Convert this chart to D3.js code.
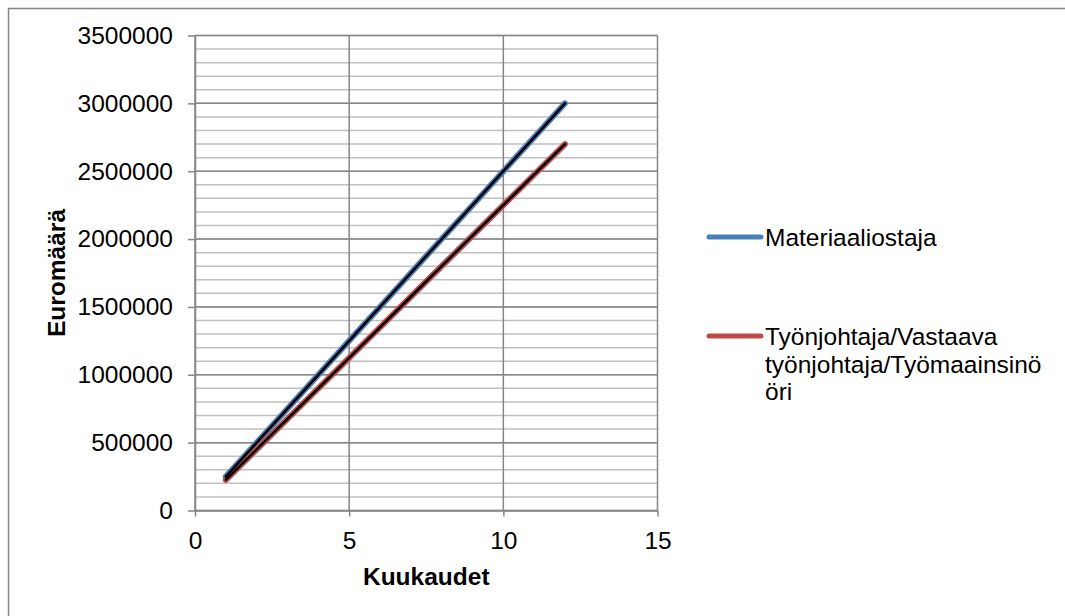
<!DOCTYPE html>
<html>
<head>
<meta charset="utf-8">
<script src="https://cdn.jsdelivr.net/npm/d3@7"></script>
<style>
  html, body { margin: 0; padding: 0; background: #fff; }
  svg { display: block; }
  text { font-family: "Liberation Sans", Arial, sans-serif; fill: #000; }
</style>
</head>
<body>
<svg id="chart" width="1065" height="616"></svg>
<script>
// Months on the x axis
const months = [1, 2, 3, 4, 5, 6, 7, 8, 9, 10, 11, 12];
// Cumulative euro amounts per role
const materiaaliostaja = [250000, 500000, 750000, 1000000, 1250000, 1500000, 1750000, 2000000, 2250000, 2500000, 2750000, 3000000];
const tyonjohtaja = [225000, 450000, 675000, 900000, 1125000, 1350000, 1575000, 1800000, 2025000, 2250000, 2475000, 2700000];
const seriesNames = ["Materiaaliostaja", "Työnjohtaja/Vastaava työnjohtaja/Työmaainsinöri"];
const legendLines = [["Materiaaliostaja"], ["Työnjohtaja/Vastaava", "työnjohtaja/Työmaainsinö", "öri"]];
const xTicks = [0, 5, 10, 15];
const yTicks = [0, 500000, 1000000, 1500000, 2000000, 2500000, 3000000, 3500000];
const yMinor = d3.range(0, 3500001, 100000);
const colors = ["#4a7ebb", "#be4b48"];

const svg = d3.select("#chart");
const plotLeft = 195, plotRight = 657.5, plotTop = 35.5, plotBottom = 510.5;
const fs = 24.5;

// Outer chart frame
svg.append("rect")
  .attr("x", 8.5).attr("y", 8.5).attr("width", 1100).attr("height", 700)
  .attr("fill", "#fff").attr("stroke", "#868686").attr("stroke-width", 1.5);

const x = d3.scaleLinear().domain([0, 15]).range([plotLeft, plotRight]);
const y = d3.scaleLinear().domain([0, 3500000]).range([plotBottom, plotTop]);

// Minor horizontal gridlines
svg.append("g").selectAll("line").data(yMinor).join("line")
  .attr("x1", plotLeft).attr("x2", plotRight)
  .attr("y1", d => y(d)).attr("y2", d => y(d))
  .attr("stroke", "#c0c0c0").attr("stroke-width", 1.5);

// Major horizontal gridlines
svg.append("g").selectAll("line").data(yTicks).join("line")
  .attr("x1", plotLeft).attr("x2", plotRight)
  .attr("y1", d => y(d)).attr("y2", d => y(d))
  .attr("stroke", "#868686").attr("stroke-width", 1.5);

// Major vertical gridlines
svg.append("g").selectAll("line").data(xTicks).join("line")
  .attr("x1", d => x(d)).attr("x2", d => x(d))
  .attr("y1", plotTop).attr("y2", plotBottom)
  .attr("stroke", "#868686").attr("stroke-width", 1.5);

// Y axis
const yAxis = svg.append("g").attr("transform", `translate(${plotLeft},0)`)
  .call(d3.axisLeft(y).tickValues(yTicks).tickFormat(d3.format("d")).tickSizeOuter(0).tickSizeInner(7).tickPadding(15));
yAxis.select(".domain").attr("stroke", "#868686").attr("stroke-width", 1.5);
yAxis.selectAll(".tick line").attr("stroke", "#868686").attr("stroke-width", 1.5);
yAxis.selectAll(".tick text").attr("font-size", fs).attr("font-family", "Liberation Sans, Arial, sans-serif").attr("fill", "#000");

// X axis
const xAxis = svg.append("g").attr("transform", `translate(0,${plotBottom})`)
  .call(d3.axisBottom(x).tickValues(xTicks).tickFormat(d3.format("d")).tickSizeOuter(0).tickSizeInner(6).tickPadding(15));
xAxis.select(".domain").attr("stroke", "#868686").attr("stroke-width", 1.5);
xAxis.selectAll(".tick line").attr("stroke", "#868686").attr("stroke-width", 1.5);
xAxis.selectAll(".tick text").attr("font-size", fs).attr("font-family", "Liberation Sans, Arial, sans-serif").attr("fill", "#000");

// Series lines with black trend lines on top
const line = d3.line().x((d, i) => x(months[i])).y(d => y(d));
[materiaaliostaja, tyonjohtaja].forEach((vals, i) => {
  svg.append("path").datum(vals).attr("d", line)
    .attr("fill", "none").attr("stroke", colors[i]).attr("stroke-width", 6)
    .attr("stroke-linecap", "round").attr("stroke-linejoin", "round");
});
[materiaaliostaja, tyonjohtaja].forEach(vals => {
  svg.append("path").datum(vals).attr("d", line)
    .attr("fill", "none").attr("stroke", "#000").attr("stroke-width", 2.5)
    .attr("stroke-linecap", "round");
});

// Axis titles
svg.append("text").attr("x", (plotLeft + plotRight) / 2).attr("y", 585)
  .attr("text-anchor", "middle").attr("font-size", fs).attr("font-weight", "bold")
  .text("Kuukaudet");
svg.append("text").attr("transform", `translate(65,${(plotTop + plotBottom) / 2}) rotate(-90)`)
  .attr("text-anchor", "middle").attr("font-size", fs).attr("font-weight", "bold")
  .text("Euromäärä");

// Legend
const legendY = [237, 336];
const legend = svg.append("g");
legendLines.forEach((lines, i) => {
  legend.append("line")
    .attr("x1", 709).attr("x2", 761).attr("y1", legendY[i]).attr("y2", legendY[i])
    .attr("stroke", colors[i]).attr("stroke-width", 5).attr("stroke-linecap", "round");
  const t = legend.append("text").attr("x", 765).attr("y", legendY[i] + 9).attr("font-size", fs);
  lines.forEach((s, j) => {
    t.append("tspan").attr("x", 765).attr("dy", j === 0 ? 0 : 27.5).text(s);
  });
});
</script>
</body>
</html>
